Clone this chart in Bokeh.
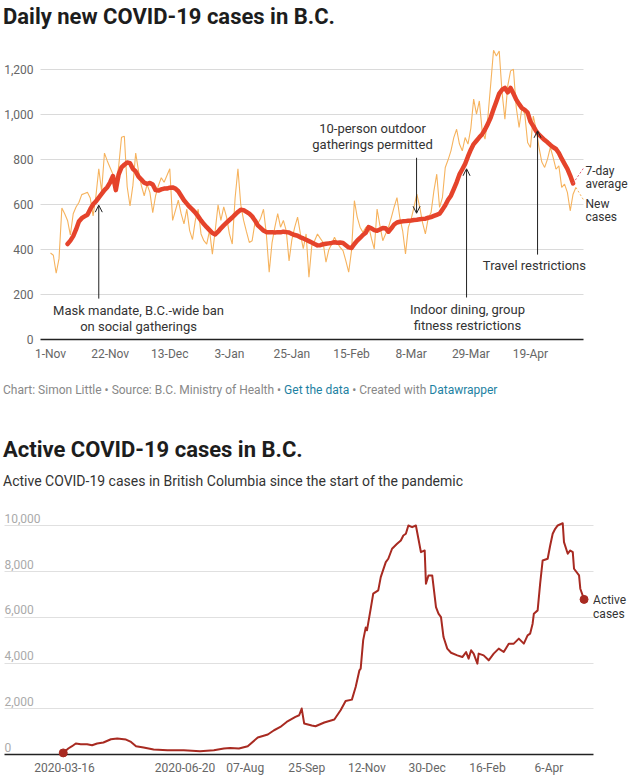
import pandas as pd
from bokeh.plotting import figure
from bokeh.layouts import column
from bokeh.models import (Range1d, FixedTicker, NumeralTickFormatter, Label, LabelSet,
                          ColumnDataSource, Arrow, OpenHead, Div, Grid)
from bokeh.core.properties import value
from bokeh.embed import file_html
from bokeh.resources import INLINE

FONT = "Roboto"
PAGE_W = 632

# ---- chart 1: daily new cases, one value per day from 1 Nov 2020
daily_start = "2020-11-01"
daily_new = [
    385, 375, 295, 360, 585, 560, 530, 465, 560, 590,
    610, 645, 650, 655, 630, 550, 640, 760, 660, 830,
    795, 765, 735, 690, 770, 900, 905, 680, 595, 685,
    830, 750, 685, 640, 690, 655, 565, 640, 685, 720,
    700, 730, 760, 530, 575, 620, 560, 515, 580, 485,
    445, 530, 580, 470, 440, 425, 485, 380, 485, 600,
    530, 590, 545, 470, 425, 630, 760, 600, 530, 480,
    432, 440, 520, 515, 540, 580, 470, 300, 430, 500,
    560, 500, 530, 485, 350, 445, 500, 545, 470, 405,
    470, 277, 418, 440, 470, 450, 432, 344, 400, 425,
    455, 430, 410, 396, 350, 300, 396, 618, 545, 500,
    477, 499, 507, 450, 403, 581, 507, 440, 470, 499,
    543, 590, 632, 543, 484, 381, 499, 536, 590, 647,
    590, 520, 470, 540, 565, 662, 736, 588, 632, 766,
    800, 840, 899, 936, 870, 840, 899, 870, 940, 1070,
    1003, 1062, 929, 892, 988, 1136, 1288, 1262, 1284, 1100,
    981, 1129, 1196, 1203, 1033, 944, 1033, 1003, 877, 855,
    995, 936, 855, 790, 766, 803, 855, 810, 758, 773,
    677, 692, 655, 573, 647, 677,
]
avg_start = "2020-11-07"
avg_7day = [
    425, 440, 460, 490, 525, 540, 548, 555, 580, 602,
    615, 632, 648, 665, 678, 700, 728, 665, 735, 766,
    778, 788, 785, 760, 748, 725, 712, 698, 693, 697,
    690, 665, 663, 668, 672, 672, 676, 677, 672, 660,
    640, 620, 605, 590, 578, 565, 548, 530, 514, 500,
    487, 474, 468, 480, 495, 508, 520, 532, 543, 556,
    568, 578, 576, 568, 560, 548, 530, 508, 497, 485,
    478, 478, 478, 476, 478, 477, 480, 478, 476, 470,
    465, 462, 455, 450, 444, 438, 432, 425, 419, 420,
    424, 426, 428, 430, 433, 431, 432, 430, 420, 410,
    407, 425, 440, 452, 465, 475, 500, 495, 487, 484,
    490, 496, 495, 480, 495, 512, 521, 524, 526, 527,
    529, 530, 532, 533, 535, 537, 538, 542, 545, 550,
    555, 560, 578, 598, 622, 640, 670, 700, 735, 758,
    782, 815, 845, 870, 885, 900, 914, 935, 960, 988,
    1025, 1060, 1095, 1112, 1120, 1100, 1120, 1095, 1068, 1048,
    1030, 1022, 1010, 970, 950, 928, 912, 900, 888, 878,
    866, 856, 848, 830, 805, 782, 760, 730, 695,
]
daily_tick_dates = ["2020-11-01", "2020-11-22", "2020-12-13", "2021-01-03", "2021-01-25",
                    "2021-02-15", "2021-03-08", "2021-03-29", "2021-04-19"]
daily_tick_labels = ["1-Nov", "22-Nov", "13-Dec", "3-Jan", "25-Jan",
                     "15-Feb", "8-Mar", "29-Mar", "19-Apr"]
daily_y_ticks = [0, 200, 400, 600, 800, 1000, 1200]

# ---- chart 2: active cases
active_dates = [
    "2020-03-15", "2020-03-19", "2020-03-22", "2020-03-25", "2020-03-29", "2020-04-03", "2020-04-07",
    "2020-04-11", "2020-04-16", "2020-04-22", "2020-04-27", "2020-05-04", "2020-05-08", "2020-05-12",
    "2020-05-18", "2020-05-26", "2020-06-06", "2020-06-19", "2020-07-02", "2020-07-13", "2020-07-21",
    "2020-07-26", "2020-08-02", "2020-08-09", "2020-08-17", "2020-08-25", "2020-08-30", "2020-09-04",
    "2020-09-09", "2020-09-16", "2020-09-19", "2020-09-21", "2020-09-23", "2020-09-29", "2020-10-02",
    "2020-10-09", "2020-10-17", "2020-10-22", "2020-10-26", "2020-10-31", "2020-11-03", "2020-11-06",
    "2020-11-07", "2020-11-09", "2020-11-11", "2020-11-12", "2020-11-15", "2020-11-17", "2020-11-21",
    "2020-11-23", "2020-11-27", "2020-11-29", "2020-12-02", "2020-12-06", "2020-12-09", "2020-12-11",
    "2020-12-13", "2020-12-15", "2020-12-18", "2020-12-21", "2020-12-23", "2020-12-25", "2020-12-28",
    "2020-12-29", "2020-12-31", "2021-01-03", "2021-01-06", "2021-01-08", "2021-01-10", "2021-01-12",
    "2021-01-15", "2021-01-18", "2021-01-23", "2021-01-27", "2021-01-30", "2021-02-01", "2021-02-03",
    "2021-02-05", "2021-02-08", "2021-02-09", "2021-02-13", "2021-02-17", "2021-02-21", "2021-02-25",
    "2021-03-01", "2021-03-05", "2021-03-09", "2021-03-13", "2021-03-17", "2021-03-20", "2021-03-22",
    "2021-03-24", "2021-03-25", "2021-03-28", "2021-03-30", "2021-04-01", "2021-04-05", "2021-04-07",
    "2021-04-09", "2021-04-11", "2021-04-13", "2021-04-17", "2021-04-18", "2021-04-21", "2021-04-23",
    "2021-04-25", "2021-04-26", "2021-04-30", "2021-05-01", "2021-05-04",
]
active_cases = [
    70, 262, 362, 480, 450, 450, 406, 480, 524, 668,
    699, 655, 550, 362, 306, 218, 188, 188, 144, 188,
    262, 288, 262, 362, 742, 873, 1061, 1205, 1424, 1642,
    1716, 2009, 1354, 1270, 1236, 1400, 1528, 1934, 2341, 2400,
    2952, 3681, 3755, 5000, 5550, 5430, 6376, 7031, 7175, 7756,
    8411, 8559, 8996, 9214, 9359, 9577, 9651, 10014, 9940, 10014,
    9433, 8848, 8922, 7468, 7830, 7830, 6446, 6158, 6009, 5136,
    4629, 4450, 4336, 4262, 4480, 4192, 4555, 4411, 3974, 4411,
    4336, 4118, 4411, 4629, 4480, 4847, 4847, 5066, 4847, 5210,
    5284, 5721, 6158, 6302, 7468, 8485, 8559, 9140, 9651, 9870,
    10014, 10114, 9284, 8778, 8922, 8848, 8123, 7830, 7249, 6782,
]
active_tick_dates = ["2020-03-16", "2020-06-20", "2020-08-07", "2020-09-25", "2020-11-12",
                     "2020-12-30", "2021-02-16", "2021-04-06"]
active_tick_labels = ["2020-03-16", "2020-06-20", "07-Aug", "25-Sep", "12-Nov",
                      "30-Dec", "16-Feb", "6-Apr"]
active_y_ticks = [0, 2000, 4000, 6000, 8000, 10000]

# annotations on chart 1: text lines, text centre (day, values), arrow (day, from, to)
events = [
    (["Mask mandate, B.C.-wide ban", "on social gatherings"], 31, [129, 58], 17, 182, 598),
    (["10-person outdoor", "gatherings permitted"], 113.4, [938, 867], 128.9, 809, 562),
    (["Indoor dining, group", "fitness restrictions"], 146.8, [133, 62], 146.5, 187, 760),
    (["Travel restrictions"], 170.4, [329], 171.5, 378, 929),
]

HAS_CROSS = "cross_bounds" in Grid.properties()


def days_since(dates, origin):
    return [int(d) for d in (pd.to_datetime(dates) - pd.Timestamp(origin)).days]


def hgrid(p, ticks, x0, x1, color):
    # horizontal gridlines that stop where the data area ends
    if HAS_CROSS:
        p.ygrid.ticker = FixedTicker(ticks=ticks)
        p.ygrid.cross_bounds = (x0, x1)
        p.ygrid.grid_line_color = color
    else:
        p.ygrid.visible = False
        p.segment(x0=[x0] * len(ticks), x1=[x1] * len(ticks), y0=ticks, y1=ticks,
                  line_color=color, line_width=1, level="underlay")


def style_xaxis(p, ticks, labels, bounds):
    p.xaxis.ticker = FixedTicker(ticks=ticks)
    p.xaxis.major_label_overrides = {d: t for d, t in zip(ticks, labels)}
    p.xaxis.bounds = bounds
    p.xaxis.major_tick_line_color = None
    p.xaxis.minor_tick_line_color = None
    p.xaxis.major_tick_out = 0
    p.xaxis.axis_line_color = None
    p.xaxis.major_label_standoff = 0
    p.xaxis.major_label_text_font = FONT
    p.xaxis.major_label_text_font_size = "12px"
    p.xaxis.major_label_text_color = "#666666"
    # zero baseline, a little above the frame edge so it is not cut
    p.segment(x0=[bounds[0]], x1=[bounds[1]], y0=[0], y1=[0], line_color="#222222",
              line_width=1.5)


def text_div(html, height, top=0, size="22px", weight="bold", color="#1d1d1d"):
    style = (f"font-family:{FONT};font-size:{size};font-weight:{weight};color:{color};"
             f"line-height:{height}px;white-space:nowrap;padding-left:3px;")
    return Div(text=f'<div style="{style}">{html}</div>', width=PAGE_W, height=height,
               margin=(top, 0, 0, 0))


# ================= chart 1 =================
T1, H1 = 13, 299
PX1 = 2.84                        # pixels per day
X0 = -50 / PX1
X1 = X0 + PAGE_W / PX1
XA, XE = -3.52, 187.68            # extent of axis line and gridlines
Y0, Y1 = -31.2, 1300


def py1(page_y):
    return Y1 - (page_y - 34 - T1) * (Y1 - Y0) / H1


p1 = figure(frame_width=PAGE_W, frame_height=H1, x_range=Range1d(X0, X1),
            y_range=Range1d(Y0, Y1),
            min_border_left=0, min_border_right=0, min_border_top=T1, min_border_bottom=23,
            output_backend="svg", toolbar_location=None, tools="")
p1.outline_line_color = None
p1.xgrid.visible = False
hgrid(p1, daily_y_ticks[1:], XA, XE, "#dadada")

x_daily = list(range(len(daily_new)))
x_avg = [days_since([avg_start], daily_start)[0] + i for i in range(len(avg_7day))]
p1.line(x_daily, daily_new, line_color="#f6b35e", line_width=1.1)
p1.line(x_avg, avg_7day, line_color="#e5432b", line_width=4.5, line_join="round", line_cap="round")

style_xaxis(p1, days_since(daily_tick_dates, daily_start), daily_tick_labels, (XA, XE))

# value axis drawn at the left end of the gridlines, taking no border space
p1.yaxis.fixed_location = XA
p1.yaxis.ticker = FixedTicker(ticks=daily_y_ticks)
p1.yaxis.formatter = NumeralTickFormatter(format="0,0")
p1.yaxis.axis_line_color = None
p1.yaxis.major_tick_line_color = None
p1.yaxis.minor_tick_line_color = None
p1.yaxis.major_tick_out = 0
p1.yaxis.major_label_standoff = 7
p1.yaxis.major_label_text_font = FONT
p1.yaxis.major_label_text_font_size = "12px"
p1.yaxis.major_label_text_color = "#666666"

for lines, tx, tys, ax_, a0, a1 in events:
    for line, ty in zip(lines, tys):
        p1.add_layout(Label(x=tx, y=ty, text=line, text_font=FONT, text_font_size="13px",
                            text_color="#333333", text_align="center", text_baseline="middle"))
    p1.add_layout(Arrow(x_start=ax_, y_start=a0, x_end=ax_, y_end=a1, line_color="#222222",
                        line_width=1, end=OpenHead(size=7, line_color="#222222", line_width=1)))

# leaders and end labels
p1.line([x_avg[-1], 187.6], [avg_7day[-1], py1(168)], line_color="#e0607a", line_width=1,
        line_dash="2 2")
p1.line([x_daily[-1], 187.6], [daily_new[-1], py1(199)], line_color="#f6b35e", line_width=1,
        line_dash="2 2")
for txt, yy in (("7-day", 170), ("average", 183), ("New", 203), ("cases", 216)):
    p1.add_layout(Label(x=(585 - 50) / PX1, y=py1(yy), text=txt, text_font=FONT,
                        text_font_size="12px", text_color="#333333", text_baseline="middle"))

# ================= chart 2 =================
T2, H2 = 6, 261
PX2 = 1.255
U0 = -64 / PX2
U1 = U0 + PAGE_W / PX2
UA, UE = -47.8, 421.5
V0, V1 = -262, 11150

p2 = figure(frame_width=PAGE_W, frame_height=H2, x_range=Range1d(U0, U1),
            y_range=Range1d(V0, V1), y_axis_location=None,
            min_border_left=0, min_border_right=0, min_border_top=T2, min_border_bottom=14,
            output_backend="svg", toolbar_location=None, tools="")
p2.outline_line_color = None
p2.xgrid.visible = False
hgrid(p2, active_y_ticks[1:], UA, UE, "#e0e0e0")

style_xaxis(p2, days_since(active_tick_dates, "2020-03-16"), active_tick_labels, (UA, UE))

x_active = days_since(active_dates, "2020-03-16")
p2.line(x_active, active_cases, line_color="#a82a21", line_width=2, line_join="round")
p2.scatter([x_active[0], x_active[-1]], [active_cases[0], active_cases[-1]], size=8,
           color="#a82a21")

ysrc2 = ColumnDataSource(data=dict(y=active_y_ticks, x=[UA] * len(active_y_ticks),
                                   t=[f"{v:,}" for v in active_y_ticks]))
p2.add_layout(LabelSet(x="x", y="y", text="t", source=ysrc2, text_font=value(FONT),
                       text_font_size="12px", text_color="#aaaaaa", text_baseline="bottom",
                       y_offset=3))

for txt, off in (("Active", -1), ("cases", -15)):
    p2.add_layout(Label(x=x_active[-1], y=active_cases[-1], x_offset=9, y_offset=off, text=txt,
                        text_font=FONT, text_font_size="12px", text_color="#333333",
                        text_baseline="middle"))

# ================= page =================
title1 = text_div("Daily new COVID-19 cases in B.C.", 34)
blue = '<span style="color:#1d81a2">{}</span>'
footer1 = text_div("Chart: Simon Little \u2022 Source: B.C. Ministry of Health \u2022 "
                   + blue.format("Get the data") + " \u2022 Created with "
                   + blue.format("Datawrapper"), 18, top=12, size="12px", weight="normal",
                   color="#888888")
title2 = text_div("Active COVID-19 cases in B.C.", 24, top=39)
sub2 = text_div("Active COVID-19 cases in British Columbia since the start of the pandemic", 24,
                top=7, size="14px", weight="normal", color="#333333")

layout = column(title1, p1, footer1, title2, sub2, p2)
open("out.html", "w").write(file_html(layout, INLINE))
